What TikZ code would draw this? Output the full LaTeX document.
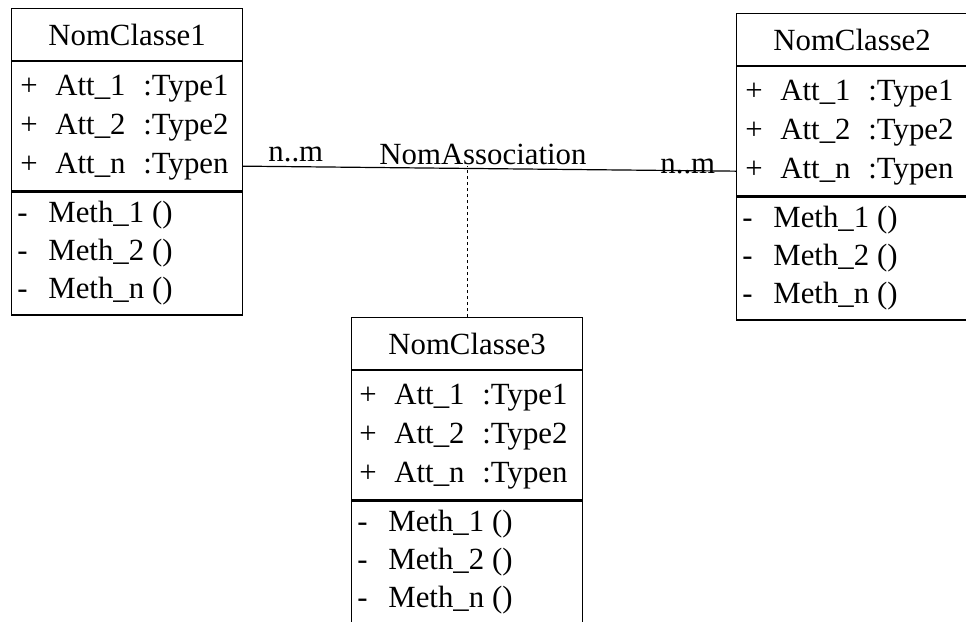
\documentclass[tikz,border=0pt]{standalone}
\usepackage{fontspec}
\setmainfont{Liberation Serif}
\usetikzlibrary{positioning}
\newcommand{\attrow}[2]{\makebox[17.5pt][l]{+}\makebox[44pt][l]{Att\_#1}:Type#2}
\newcommand{\methrow}[1]{\makebox[15.5pt][l]{-}Meth\_#1\hspace{4pt}()}
\begin{document}
\begin{tikzpicture}[x=0.5pt,y=-0.5pt,font=\fontsize{15.4}{18}\selectfont,
    box/.style={draw,line width=0.6pt,inner sep=0pt,minimum width=115.5pt},
    head/.style={box,anchor=north west,minimum height=26pt},
    attbox/.style={box,minimum height=64.5pt},
    methbox/.style={box,minimum height=61.5pt},
    row/.style={anchor=base west,inner sep=0pt}]
          \useasboundingbox (0,0) rectangle (966,622);
          % NomClasse1
          \node[head] (c1head) at (11,8) {NomClasse1};
          \node[attbox,below=0pt of c1head] (c1att) {};
          \node[methbox,below=0pt of c1att] (c1meth) {};
          \node[row] (c1a1) at (20,95) {\attrow{1}{1}};
          \node[row] (c1a2) at (20,134) {\attrow{2}{2}};
          \node[row] (c1an) at (20,173) {\attrow{n}{n}};
          \node[row] (c1m1) at (17,222) {\methrow{1}};
          \node[row] (c1m2) at (17,260) {\methrow{2}};
          \node[row] (c1mn) at (17,298) {\methrow{n}};
          % NomClasse2
          \node[head] (c2head) at (736,13) {NomClasse2};
          \node[attbox,below=0pt of c2head] (c2att) {};
          \node[methbox,below=0pt of c2att] (c2meth) {};
          \node[row] (c2a1) at (745,100) {\attrow{1}{1}};
          \node[row] (c2a2) at (745,139) {\attrow{2}{2}};
          \node[row] (c2an) at (745,178) {\attrow{n}{n}};
          \node[row] (c2m1) at (742,227) {\methrow{1}};
          \node[row] (c2m2) at (742,265) {\methrow{2}};
          \node[row] (c2mn) at (742,303) {\methrow{n}};
          % NomClasse3
          \node[head] (c3head) at (351,317) {NomClasse3};
          \node[attbox,below=0pt of c3head] (c3att) {};
          \node[methbox,below=0pt of c3att] (c3meth) {};
          \node[row] (c3a1) at (359,404) {\attrow{1}{1}};
          \node[row] (c3a2) at (359,443) {\attrow{2}{2}};
          \node[row] (c3an) at (359,482) {\attrow{n}{n}};
          \node[row] (c3m1) at (357,531) {\methrow{1}};
          \node[row] (c3m2) at (357,569) {\methrow{2}};
          \node[row] (c3mn) at (357,607) {\methrow{n}};
          % association
          \node[row] (multL) at (268,161) {n..m};
          \node[row] (assocname) at (379,164) {NomAssociation};
          \node[row] (multR) at (660,173) {n..m};
          \draw[line width=0.6pt] (c1att.east |- c1an) -- (c2att.west |- c2an);
          \draw[line width=0.35pt,dash pattern=on 1.5pt off 1.5pt] (c3head.north) -- (c3head.north |- c1an);
        \end{tikzpicture}
\end{document}
